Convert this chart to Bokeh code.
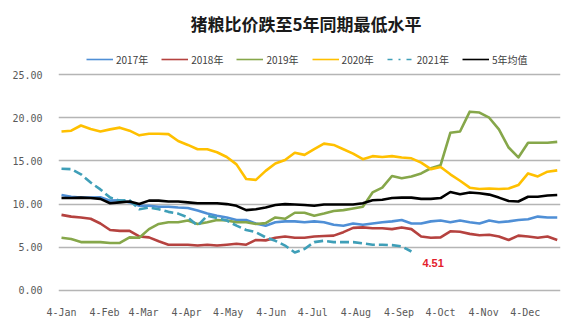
import pandas as pd
from bokeh.plotting import figure
from bokeh.models import (ColumnDataSource, Range1d, FixedTicker, Legend,
                          LegendItem, Label, NumeralTickFormatter)
from bokeh.embed import file_html
from bokeh.resources import INLINE

# ---------------- data ----------------
start_date = "2021-01-04"
n_weeks = 52

y2017 = [11.05, 10.85, 10.75, 10.75, 10.8, 10.4, 10.45, 10.2, 9.8, 9.8,
         9.7, 9.7, 9.6, 9.55, 9.25, 8.9, 8.65, 8.45, 8.15, 8.15,
         7.75, 7.5, 7.9, 8.0, 8.0, 7.9, 8.0, 7.9, 7.6, 7.5,
         7.75, 7.6, 7.75, 7.9, 8.0, 8.15, 7.75, 7.75, 8.0, 8.1,
         7.9, 8.1, 7.9, 7.75, 8.1, 7.9, 8.0, 8.15, 8.25, 8.55,
         8.45, 8.45]
y2018 = [8.75, 8.55, 8.45, 8.3, 7.75, 7.0, 6.9, 6.9, 6.25, 6.15,
         5.7, 5.3, 5.3, 5.3, 5.2, 5.3, 5.2, 5.3, 5.4, 5.3,
         5.85, 5.8, 6.1, 6.25, 6.1, 6.1, 6.25, 6.3, 6.35, 6.75,
         7.25, 7.3, 7.2, 7.2, 7.1, 7.3, 7.1, 6.25, 6.1, 6.15,
         6.85, 6.8, 6.55, 6.4, 6.45, 6.25, 5.85, 6.35, 6.25, 6.1,
         6.25, 5.85]
y2019 = [6.1, 5.95, 5.6, 5.6, 5.6, 5.5, 5.5, 6.15, 6.1, 7.1,
         7.7, 7.9, 7.9, 8.1, 7.7, 7.9, 8.15, 8.1, 7.9, 7.9,
         7.7, 7.8, 8.45, 8.3, 9.0, 9.0, 8.65, 8.9, 9.2, 9.3,
         9.5, 9.7, 11.35, 11.9, 13.25, 13.0, 13.2, 13.55, 14.15, 14.5,
         18.25, 18.4, 20.7, 20.6, 20.0, 18.65, 16.55, 15.4, 17.1, 17.1,
         17.1, 17.2]
y2020 = [18.4, 18.5, 19.1, 18.7, 18.4, 18.65, 18.85, 18.5, 17.96, 18.15,
         18.15, 18.1, 17.3, 16.85, 16.35, 16.35, 16.0, 15.45, 14.6, 12.9,
         12.8, 13.85, 14.7, 15.1, 15.95, 15.7, 16.35, 17.0, 16.85, 16.35,
         15.85, 15.2, 15.55, 15.45, 15.55, 15.4, 15.3, 14.8, 14.05, 14.3,
         13.45, 12.7, 11.9, 11.75, 11.8, 11.75, 11.8, 12.2, 13.55, 13.2,
         13.75, 13.9]
y2021 = [14.1, 14.05, 13.45, 12.5, 11.7, 10.75, 10.4, 10.45, 9.4, 9.6,
         9.4, 9.1, 8.9, 8.45, 7.5, 8.65, 8.4, 8.1, 7.5, 7.0,
         6.75, 6.15, 5.75, 5.2, 4.4, 4.8, 5.6, 5.75, 5.6, 5.6,
         5.6, 5.45, 5.3, 5.3, 5.25, 5.1, 4.51]
yavg = [10.7, 10.7, 10.75, 10.7, 10.6, 10.1, 10.2, 10.3, 10.0, 10.4,
        10.4, 10.3, 10.3, 10.2, 10.1, 10.1, 10.1, 10.0, 9.8, 9.3,
        9.4, 9.6, 9.9, 10.0, 9.95, 9.9, 9.8, 9.95, 9.95, 9.95,
        9.95, 10.1, 10.45, 10.5, 10.7, 10.75, 10.75, 10.6, 10.6, 10.7,
        11.4, 11.15, 11.35, 11.25, 11.1, 10.75, 10.35, 10.3, 10.85, 10.85,
        11.0, 11.05]

series_names = ["2017年", "2018年", "2019年", "2020年", "2021年", "5年均值"]

tick_dates = ["2021-01-04", "2021-02-04", "2021-03-04", "2021-04-04",
              "2021-05-04", "2021-06-04", "2021-07-04", "2021-08-04",
              "2021-09-04", "2021-10-04", "2021-11-04", "2021-12-04"]
tick_labels = ["4-Jan", "4-Feb", "4-Mar", "4-Apr", "4-May", "4-Jun",
               "4-Jul", "4-Aug", "4-Sep", "4-Oct", "4-Nov", "4-Dec"]
y_ticks = [0, 5, 10, 15, 20, 25]

title_text = "猪粮比价跌至5年同期最低水平"

# ---------------- x positions (days since first week) ----------------
dates = pd.date_range(start_date, periods=n_weeks, freq="7D")
x_all = [int(d) for d in (dates - dates[0]).days]
tick_x = [int((pd.Timestamp(d) - dates[0]).days) for d in tick_dates]

# ---------------- figure ----------------
p = figure(width=577, height=323, output_backend="svg", toolbar_location=None,
           x_range=Range1d(-2.16, 359.35), y_range=Range1d(-0.93, 28.94),
           min_border_left=58, min_border_right=17,
           min_border_top=40, min_border_bottom=25)
p.outline_line_color = None
p.background_fill_color = "white"
p.border_fill_color = "white"

p.title.text = title_text
p.title.align = "left"
p.title.offset = 132
p.title.text_font = "Noto Sans CJK SC"
p.title.text_font_size = "17px"
p.title.text_font_style = "bold"
p.title.text_color = "#1a1a1a"

p.xgrid.visible = False
p.ygrid.ticker = FixedTicker(ticks=y_ticks)
p.ygrid.grid_line_color = "#b5b5b5"
p.ygrid.grid_line_width = 1.3

for ax in (p.xaxis, p.yaxis):
    ax.axis_line_color = None
    ax.major_tick_line_color = None
    ax.minor_tick_line_color = None
    ax.major_label_text_font = "DejaVu Sans Mono"
    ax.major_label_text_font_size = "10px"
    ax.major_label_text_color = "#595959"

p.yaxis.ticker = FixedTicker(ticks=y_ticks)
p.yaxis.formatter = NumeralTickFormatter(format="0.00")
p.yaxis.major_label_standoff = 10
p.xaxis.ticker = FixedTicker(ticks=tick_x)
p.xaxis.major_label_overrides = {t: l for t, l in zip(tick_x, tick_labels)}
p.xaxis.major_label_standoff = 2

colors = ["#4f8fd6", "#b5423f", "#86a74a", "#ffc000", "#3f9fb8", "#000000"]
all_series = [y2017, y2018, y2019, y2020, y2021, yavg]
dashes = ["solid", "solid", "solid", "solid", "9 4", "solid"]

for ys, c, d in zip(all_series, colors, dashes):
    src = ColumnDataSource(dict(x=x_all[:len(ys)], y=ys))
    p.line("x", "y", source=src, line_color=c, line_width=2.6,
           line_dash=d, line_join="round")

# legend entries (thin line swatches; single-point renderers draw nothing in the plot)
legend_dashes = ["solid", "solid", "solid", "solid", "5 6 2 6", "solid"]
items = []
for name, ys, c, d in zip(series_names, all_series, colors, legend_dashes):
    r = p.line(x=x_all[:1], y=ys[:1], line_color=c, line_width=1.6, line_dash=d)
    items.append(LegendItem(label=name, renderers=[r]))
legend = Legend(items=items, orientation="horizontal", location=(28, 229),
                glyph_width=27, glyph_height=20, label_standoff=3, spacing=13,
                padding=0, margin=0, border_line_alpha=0,
                background_fill_alpha=0, label_text_font="Noto Sans CJK SC",
                label_text_font_size="10px", label_text_color="#404040")
p.add_layout(legend, "center")

# last value annotation
last_i = len(y2021) - 1
p.add_layout(Label(x=x_all[last_i], y=y2021[last_i], text=f"{y2021[last_i]:.2f}",
                   x_offset=11, y_offset=-7, text_baseline="top",
                   text_color="#e3202c", text_font="Liberation Sans",
                   text_font_style="bold", text_font_size="11px"))

open("out.html", "w").write(file_html(p, INLINE))
